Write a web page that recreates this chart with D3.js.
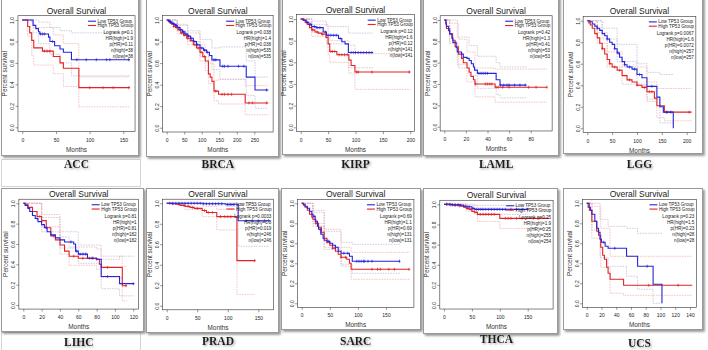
<!DOCTYPE html>
<html>
<head>
<meta charset="utf-8">
<script src="https://cdn.jsdelivr.net/npm/d3@7"></script>
<style>
  body { margin: 0; background: #fff; }
  svg { display: block; }
</style>
</head>
<body>
<svg id="chart" width="708" height="350"></svg>
<script>
// ---- survival curves: [months, survival] step points ----
const accLow  = [[0,1],[16,0.95],[20,0.92],[24,0.89],[26,0.87],[39,0.84],[41,0.80],[48,0.76],[56,0.73],[61,0.70],[73,0.63],[160,0.63]];
const accHigh = [[0,1],[8,0.94],[11,0.88],[14,0.81],[17,0.74],[30,0.71],[46,0.66],[56,0.60],[61,0.55],[84,0.37],[160,0.37]];
const accLowCens  = [27,30,33,45,81,95,110,125,130,158];
const accHighCens = [33,37,41,100,120,135,158];
// bands: [months, upper, lower]
const accLowBand  = [[0,1,1],[16,1,0.88],[24,0.98,0.78],[41,0.93,0.68],[56,0.90,0.60],[73,0.88,0.48],[160,0.88,0.48]];
const accHighBand = [[0,1,1],[8,1,0.85],[14,0.98,0.67],[17,0.93,0.58],[46,0.86,0.50],[61,0.78,0.38],[84,0.47,0.19],[160,0.47,0.19]];
const accStats = ["Logrank p=0.1","HR(high)=1.9","p(HR)=0.11","n(high)=38","n(low)=38"];

const brcaLow  = [[0,1],[5,0.99],[10,0.98],[15,0.97],[20,0.96],[25,0.95],[30,0.93],[38,0.91],[45,0.89],[52,0.87],[60,0.85],[68,0.83],[76,0.80],[85,0.77],[95,0.74],[105,0.72],[114,0.70],[122,0.67],[129,0.63],[152,0.57],[227,0.47],[252,0.35],[290,0.35]];
const brcaHigh = [[0,1],[5,0.99],[10,0.97],[15,0.96],[20,0.94],[25,0.93],[32,0.91],[40,0.88],[48,0.86],[57,0.83],[67,0.81],[76,0.77],[85,0.74],[95,0.70],[103,0.66],[110,0.62],[119,0.50],[124,0.47],[129,0.43],[135,0.34],[148,0.31],[224,0.23],[290,0.23]];
const brcaLowCens  = [8,12,18,22,28,35,40,48,55,62,70,80,88,100,108,116,135,140,160,165,175,205,220,285];
const brcaHighCens = [6,14,20,27,35,42,50,60,70,80,90,98,108,140,158,165,175,185,235,245,285];
const brcaLowBand  = [[0,1,1],[30,0.96,0.90],[60,0.90,0.80],[95,0.82,0.66],[129,0.74,0.54],[152,0.75,0.45],[227,0.62,0.30],[252,0.47,0.18],[290,0.47,0.18]];
const brcaHighBand = [[0,1,1],[30,0.95,0.87],[60,0.88,0.77],[95,0.77,0.62],[110,0.70,0.53],[119,0.60,0.41],[135,0.44,0.25],[148,0.45,0.22],[224,0.39,0.12],[290,0.39,0.12]];
const brcaStats = ["Logrank p=0.038","HR(high)=1.4","p(HR)=0.038","n(high)=535","n(low)=535"];

const kirpLow  = [[0,1],[5,0.99],[10,0.97],[15,0.95],[20,0.93],[28,0.92],[41,0.88],[47,0.85],[69,0.82],[75,0.79],[81,0.77],[87,0.69],[132,0.69]];
const kirpHigh = [[0,1],[4,0.99],[8,0.97],[12,0.95],[16,0.92],[20,0.90],[26,0.88],[32,0.87],[38,0.86],[46,0.83],[50,0.77],[53,0.70],[66,0.67],[88,0.62],[92,0.57],[99,0.51],[200,0.51]];
const kirpLowCens  = [12,18,25,30,35,45,50,55,60,65,72,92,96,100,105,110,115,120,125,130];
const kirpHighCens = [10,22,30,40,55,58,62,70,75,80,85,102,105,130,198];
const kirpLowBand  = [[0,1,1],[20,0.98,0.88],[47,0.93,0.77],[87,0.87,0.55],[132,0.87,0.55]];
const kirpHighBand = [[0,1,1],[20,0.95,0.84],[50,0.86,0.67],[53,0.80,0.60],[88,0.76,0.50],[99,0.68,0.35],[200,0.68,0.35]];
const kirpStats = ["Logrank p=0.12","HR(high)=1.6","p(HR)=0.12","n(high)=141","n(low)=141"];

const lamlLow  = [[0,1],[1.5,0.97],[2,0.94],[4,0.90],[5,0.87],[7,0.83],[8,0.79],[11,0.74],[12,0.70],[16,0.68],[17.6,0.65],[21,0.64],[23,0.62],[25,0.59],[27,0.56],[28,0.53],[30.6,0.50],[48,0.44],[51.6,0.39],[76,0.39]];
const lamlHigh = [[0,1],[1.5,0.96],[2,0.92],[5,0.87],[7.7,0.81],[10,0.75],[13,0.68],[16,0.64],[17.6,0.60],[21,0.55],[23,0.51],[24.7,0.47],[27,0.44],[28.4,0.40],[47,0.37],[95,0.37]];
const lamlLowCens  = [32,34,36,38,40,52,55,58,60,65,70,75];
const lamlHighCens = [29,38,40,42,44,48,50,54,60,78,85,95];
const lamlLowBand  = [[0,1,1],[5,1,0.78],[12,0.84,0.58],[23,0.76,0.48],[30.6,0.66,0.36],[48,0.60,0.30],[51.6,0.56,0.27],[76,0.56,0.27]];
const lamlHighBand = [[0,1,1],[5,0.97,0.78],[13,0.82,0.55],[21,0.70,0.42],[28.4,0.55,0.28],[47,0.54,0.23],[95,0.54,0.23]];
const lamlStats = ["Logrank p=0.42","HR(high)=1.3","p(HR)=0.41","n(high)=53","n(low)=53"];

const lggLow  = [[0,1],[5,0.99],[10,0.97],[15,0.95],[20,0.93],[25,0.91],[30,0.88],[35,0.86],[40,0.83],[45,0.80],[50,0.78],[55,0.74],[60,0.70],[65,0.66],[70,0.62],[75,0.59],[80,0.57],[90,0.55],[100,0.50],[110,0.47],[120,0.39],[140,0.29],[146,0.20],[153,0.15],[173,0]];
const lggHigh = [[0,1],[3,0.98],[6,0.96],[10,0.93],[15,0.88],[20,0.84],[25,0.79],[30,0.74],[35,0.69],[40,0.64],[45,0.60],[50,0.57],[60,0.54],[70,0.49],[80,0.45],[90,0.43],[100,0.40],[110,0.38],[120,0.34],[135,0.28],[140,0.21],[155,0.15],[210,0.15]];
const lggLowCens  = [20,40,55,62,75,85,95,105,130,160,168];
const lggHighCens = [30,45,55,65,85,100,115,125,130,160,205];
const lggLowBand  = [[0,1,1],[30,0.93,0.83],[60,0.78,0.62],[100,0.60,0.40],[120,0.52,0.27],[146,0.50,0.05],[173,0.50,0.05]];
const lggHighBand = [[0,1,1],[20,0.89,0.79],[40,0.71,0.57],[70,0.57,0.41],[120,0.43,0.25],[140,0.37,0.10],[155,0.37,0.07],[210,0.37,0.07]];
const lggStats = ["Logrank p=0.0067","HR(high)=1.6","p(HR)=0.0072","n(high)=257","n(low)=257"];

const lihcLow  = [[0,1],[2,0.98],[5,0.95],[7,0.92],[10,0.88],[13,0.85],[16,0.82],[20,0.79],[23,0.76],[26,0.72],[30,0.69],[35,0.66],[40,0.64],[45,0.62],[55,0.60],[57,0.53],[60,0.50],[70,0.46],[80,0.45],[85,0.28],[105,0.21],[121,0.21]];
const lihcHigh = [[0,1],[2,0.99],[5,0.96],[10,0.92],[15,0.87],[20,0.83],[25,0.76],[30,0.68],[35,0.64],[40,0.59],[45,0.53],[50,0.48],[60,0.46],[80,0.45],[83,0.40],[85,0.37],[108,0.19],[113,0.19]];
const lihcLowCens  = [15,25,52,58,62,65,68,75,92,120];
const lihcHighCens = [18,33,55,65,72,76,80,92,112];
const lihcLowBand  = [[0,1,1],[20,0.86,0.72],[40,0.72,0.56],[60,0.59,0.41],[85,0.45,0.16],[105,0.48,0.09],[121,0.48,0.09]];
const lihcHighBand = [[0,1,1],[20,0.89,0.77],[40,0.67,0.50],[50,0.57,0.39],[80,0.55,0.35],[85,0.48,0.27],[108,0.38,0.04],[113,0.38,0.04]];
const lihcStats = ["Logrank p=0.81","HR(high)=1","p(HR)=0.81","n(high)=182","n(low)=182"];

const pradLow  = [[0,1],[60,0.995],[96,0.99],[117,0.83],[168,0.83]];
const pradHigh = [[0,1],[8,0.995],[15,0.99],[22,0.98],[30,0.97],[38,0.96],[45,0.95],[58,0.93],[65,0.91],[82,0.87],[115,0.44],[145,0.44]];
const pradLowCens  = [5,10,15,20,25,30,35,40,45,50,55,60,65,70,75,80,85,90,100,105,110,130,140,150,160,167];
const pradHighCens = [10,20,28,35,42,50,62,68,75,88,95,100,105,144];
const pradLowBand  = [[0,1,1],[96,1,0.97],[117,0.98,0.58],[168,0.98,0.58]];
const pradHighBand = [[0,1,1],[30,1,0.94],[58,0.97,0.87],[82,0.94,0.74],[115,1,0.11],[145,1,0.11]];
const pradStats = ["Logrank p=0.0033","HR(high)=6.8","p(HR)=0.019","n(high)=246","n(low)=246"];

const sarcLow  = [[0,1],[3,0.99],[6,0.97],[10,0.95],[14,0.92],[18,0.89],[20,0.87],[24,0.82],[28,0.77],[30,0.74],[34,0.69],[38,0.65],[40,0.63],[45,0.62],[50,0.60],[55,0.58],[60,0.56],[65,0.52],[70,0.50],[85,0.47],[90,0.42],[175,0.42]];
const sarcHigh = [[0,1],[3,0.98],[6,0.96],[10,0.93],[14,0.89],[18,0.86],[20,0.84],[25,0.80],[30,0.76],[35,0.71],[40,0.65],[45,0.61],[50,0.58],[55,0.55],[60,0.52],[65,0.49],[70,0.46],[80,0.44],[85,0.40],[88,0.34],[192,0.34]];
const sarcLowCens  = [22,33,48,60,75,82,98,102,106,110,112,118,125,174];
const sarcHighCens = [25,35,45,55,70,78,125,135,140,155,165,191];
const sarcLowBand  = [[0,1,1],[20,0.93,0.80],[40,0.72,0.54],[70,0.61,0.39],[90,0.59,0.30],[175,0.59,0.30]];
const sarcHighBand = [[0,1,1],[20,0.91,0.77],[40,0.74,0.56],[70,0.56,0.37],[88,0.51,0.24],[192,0.51,0.24]];
const sarcStats = ["Logrank p=0.69","HR(high)=1.1","p(HR)=0.69","n(high)=131","n(low)=131"];

const thcaLow  = [[0,1],[15,0.995],[30,0.99],[35,0.98],[42,0.975],[50,0.96],[55,0.95],[150,0.95]];
const thcaHigh = [[0,1],[8,0.995],[15,0.99],[25,0.985],[32,0.98],[36,0.97],[40,0.96],[45,0.95],[50,0.93],[55,0.92],[60,0.90],[100,0.86],[188,0.86]];
const thcaLowCens  = [5,10,15,20,25,30,38,45,52,58,62,66,70,75,80,85,90,95,100,105,110,120,130,140,150];
const thcaHighCens = [5,12,20,28,35,42,48,65,70,75,80,85,90,110,115,120,130,140,160,170];
const thcaLowBand  = [[0,1,1],[40,1,0.95],[55,0.99,0.90],[150,0.99,0.90]];
const thcaHighBand = [[0,1,1],[40,0.99,0.93],[60,0.96,0.83],[100,0.95,0.76],[188,0.95,0.76]];
const thcaStats = ["Logrank p=0.25","HR(high)=1.9","p(HR)=0.25","n(high)=255","n(low)=254"];

const ucsLow  = [[0,1],[2,0.96],[5,0.93],[7,0.89],[11,0.82],[13.6,0.75],[16,0.71],[18,0.64],[20,0.61],[25,0.57],[29,0.55],[54,0.47],[69,0.37],[90,0.19],[102,0]];
const ucsHigh = [[0,1],[3.6,0.93],[7,0.82],[13.6,0.72],[16,0.68],[19,0.56],[21.7,0.48],[24,0.44],[27,0.36],[29,0.30],[31.7,0.24],[50,0.18],[143,0.18]];
const ucsLowCens  = [23,38,82];
const ucsHighCens = [84,124];
const ucsLowBand  = [[0,1,1],[7,1,0.73],[18,0.84,0.46],[29,0.77,0.37],[54,0.75,0.27],[69,0.70,0.14],[90,0.70,0],[102,0.70,0]];
const ucsHighBand = [[0,1,1],[7,0.97,0.65],[19,0.75,0.36],[31.7,0.47,0.10],[50,0.47,0.08],[143,0.47,0.08]];
const ucsStats = ["Logrank p=0.23","HR(high)=1.5","p(HR)=0.23","n(high)=28","n(low)=28"];

// ---- layout of the ten screenshots ----
const panels = [
  {name:"ACC",  low:accLow,  high:accHigh,  lc:accLowCens,  hc:accHighCens,  lb:accLowBand,  hb:accHighBand,  stats:accStats,
   frame:[1,-3,137,158],  px0:22.3,  px1:123.3, tick1:150, step:50, py0:127.3, py1:20,    tEnd:161, labelY:164},
  {name:"BRCA", low:brcaLow, high:brcaHigh, lc:brcaLowCens, hc:brcaHighCens, lb:brcaLowBand, hb:brcaHighBand, stats:brcaStats,
   frame:[146,-3,132,159],px0:166.7, px1:254.3, tick1:250, step:50, py0:127.7, py1:20,    tEnd:292, labelY:164},
  {name:"KIRP", low:kirpLow, high:kirpHigh, lc:kirpLowCens, hc:kirpHighCens, lb:kirpLowBand, hb:kirpHighBand, stats:kirpStats,
   frame:[282,-3,138,157],px0:300.7, px1:410.3, tick1:200, step:50, py0:127.3, py1:19,    tEnd:200, labelY:164},
  {name:"LAML", low:lamlLow, high:lamlHigh, lc:lamlLowCens, hc:lamlHighCens, lb:lamlLowBand, hb:lamlHighBand, stats:lamlStats,
   frame:[423,-3,135,158],px0:444.3, px1:530.7, tick1:80,  step:20, py0:126.7, py1:20,    tEnd:96,  labelY:164},
  {name:"LGG",  low:lggLow,  high:lggHigh,  lc:lggLowCens,  hc:lggHighCens,  lb:lggLowBand,  hb:lggHighBand,  stats:lggStats,
   frame:[563,-3,139,156],px0:587.3, px1:686.7, tick1:200, step:50, py0:128.3, py1:20.7,  tEnd:210, labelY:164},
  {name:"LIHC", low:lihcLow, high:lihcHigh, lc:lihcLowCens, hc:lihcHighCens, lb:lihcLowBand, hb:lihcHighBand, stats:lihcStats,
   frame:[1,188,142,143], px0:23.3,  px1:133.3, tick1:120, step:20, py0:305,   py1:203.3, tEnd:121, labelY:342},
  {name:"PRAD", low:pradLow, high:pradHigh, lc:pradLowCens, hc:pradHighCens, lb:pradLowBand, hb:pradHighBand, stats:pradStats,
   frame:[146,188,132,144],px0:166.7,px1:258.3, tick1:150, step:50, py0:305.7, py1:203.3, tEnd:168, labelY:341},
  {name:"SARC", low:sarcLow, high:sarcHigh, lc:sarcLowCens, hc:sarcHighCens, lb:sarcLowBand, hb:sarcHighBand, stats:sarcStats,
   frame:[281,188,139,141],px0:301.7, px1:386,   tick1:150, step:50, py0:303.3, py1:203.3, tEnd:192, labelY:341},
  {name:"THCA", low:thcaLow, high:thcaHigh, lc:thcaLowCens, hc:thcaHighCens, lb:thcaLowBand, hb:thcaHighBand, stats:thcaStats,
   frame:[423,188,134,145],px0:444,   px1:527.7, tick1:150, step:50, py0:305,   py1:204.3, tEnd:188, labelY:338.5},
  {name:"UCS",  low:ucsLow,  high:ucsHigh,  lc:ucsLowCens,  hc:ucsHighCens,  lb:ucsLowBand,  hb:ucsHighBand,  stats:ucsStats,
   frame:[563,188,139,141],px0:586.7, px1:690,   tick1:140, step:20, py0:303.3, py1:203.3, tEnd:143, labelY:343}
];

const lowColor = "#2525d9", highColor = "#e32222";
const lowBandColor = "#b9b9d8", highBandColor = "#f1aaaa";
const sans = "'Liberation Sans', Arial, sans-serif";

const svg = d3.select("#chart");
const defs = svg.append("defs");
const shadow = defs.append("filter").attr("id", "shadow").attr("x", "-5%").attr("y", "-5%").attr("width", "115%").attr("height", "115%");
shadow.append("feDropShadow").attr("dx", 1.8).attr("dy", 1.8).attr("stdDeviation", 1.2).attr("flood-color", "#666").attr("flood-opacity", 0.7);
const tshadow = defs.append("filter").attr("id", "tshadow").attr("x", "-20%").attr("y", "-40%").attr("width", "150%").attr("height", "190%");
tshadow.append("feDropShadow").attr("dx", 1.2).attr("dy", 1.2).attr("stdDeviation", 1).attr("flood-color", "#888").attr("flood-opacity", 0.8);

// faint boxes around the first column labels
[[1,159,139,27],[1,332,139,30]].forEach(r => {
  svg.append("rect").attr("x", r[0] + 0.5).attr("y", r[1] + 0.5).attr("width", r[2]).attr("height", r[3])
    .attr("fill", "none").attr("stroke", "#d4d4d4").attr("stroke-width", 1);
});

function survAt(curve, t) {
  let s = curve[0][1];
  curve.forEach(p => { if (p[0] <= t) s = p[1]; });
  return s;
}

panels.forEach(p => {
  const g = svg.append("g");
  const [fx, fy, fw, fh] = p.frame;

  // screenshot frame
  g.append("rect").attr("x", fx + 0.5).attr("y", fy + 0.5).attr("width", fw).attr("height", fh)
    .attr("fill", "#fff").attr("stroke", "#9a9a9a").attr("stroke-width", 1).attr("filter", "url(#shadow)");

  const x = d3.scaleLinear().domain([0, p.tick1]).range([p.px0, p.px1]);
  const y = d3.scaleLinear().domain([0, 1]).range([p.py0, p.py1]);
  const boxL = x(-0.04 * p.tEnd), boxR = x(1.04 * p.tEnd);
  const boxT = y(1.04), boxB = y(-0.04);
  const cx = (boxL + boxR) / 2;

  const line = d3.line().x(d => x(d[0])).y(d => y(d[1])).curve(d3.curveStepAfter);

  // confidence bands
  [[p.lb, lowBandColor], [p.hb, highBandColor]].forEach(([band, col]) => {
    [1, 2].forEach(k => {
      g.append("path").attr("d", line(band.map(b => [b[0], b[k]])))
        .attr("fill", "none").attr("stroke", col).attr("stroke-width", 0.7).attr("stroke-dasharray", "1.6,1");
    });
  });

  // curves
  [[p.high, p.hc, highColor], [p.low, p.lc, lowColor]].forEach(([curve, cens, col]) => {
    g.append("path").attr("d", line(curve)).attr("fill", "none").attr("stroke", col).attr("stroke-width", 1.1);
    g.selectAll(null).data(cens).enter().append("path")
      .attr("d", t => {
        const px = x(t), py = y(survAt(curve, t));
        return `M${px},${py - 1.6}V${py + 1.6}M${px - 1.2},${py}H${px + 1.2}`;
      })
      .attr("stroke", col).attr("stroke-width", 0.6);
  });

  // plot box
  g.append("rect").attr("x", boxL).attr("y", boxT).attr("width", boxR - boxL).attr("height", boxB - boxT)
    .attr("fill", "none").attr("stroke", "#333").attr("stroke-width", 0.6);

  // axes
  const ticks = d3.range(0, p.tick1 + 0.1, p.step);
  const gx = g.append("g").attr("transform", `translate(0,${boxB})`)
    .call(d3.axisBottom(x).tickValues(ticks).tickSize(2.5).tickPadding(4).tickSizeOuter(0));
  gx.select(".domain").remove();
  gx.selectAll("line").attr("stroke", "#333").attr("stroke-width", 0.5);
  gx.selectAll("text").attr("font-size", 5).attr("font-family", sans).attr("fill", "#222");

  const gy = g.append("g").attr("transform", `translate(${boxL},0)`)
    .call(d3.axisLeft(y).tickValues([0, 0.2, 0.4, 0.6, 0.8, 1]).tickFormat(d3.format(".1f")).tickSize(2.5).tickSizeOuter(0));
  gy.select(".domain").remove();
  gy.selectAll("line").attr("stroke", "#333").attr("stroke-width", 0.5);
  gy.selectAll("text").attr("font-size", 5).attr("font-family", sans).attr("fill", "#222")
    .attr("x", null).attr("dy", null).attr("text-anchor", "middle").attr("dominant-baseline", "central")
    .attr("transform", "translate(-5.5,0) rotate(-90)");

  // titles
  g.append("text").attr("x", cx).attr("y", boxT - 5).attr("text-anchor", "middle").attr("dominant-baseline", "central")
    .attr("font-family", sans).attr("font-size", 8.5).attr("fill", "#222").text("Overall Survival");
  g.append("text").attr("x", cx).attr("y", boxB + 17.5).attr("text-anchor", "middle").attr("dominant-baseline", "central")
    .attr("font-family", sans).attr("font-size", 6.4).attr("fill", "#333").text("Months");
  g.append("text").attr("transform", `translate(${boxL - 13},${(boxT + boxB) / 2}) rotate(-90)`)
    .attr("text-anchor", "middle").attr("dominant-baseline", "central")
    .attr("font-family", sans).attr("font-size", 6.4).attr("fill", "#333").text("Percent survival");

  // legend
  [["Low TP53 Group", lowColor, 5.5], ["High TP53 Group", highColor, 9.8]].forEach(([lab, col, dy]) => {
    g.append("line").attr("x1", boxR - 47).attr("x2", boxR - 39).attr("y1", boxT + dy).attr("y2", boxT + dy)
      .attr("stroke", col).attr("stroke-width", 1.1);
    g.append("text").attr("x", boxR - 37.5).attr("y", boxT + dy).attr("dominant-baseline", "central")
      .attr("font-family", sans).attr("font-size", 4.6).attr("fill", "#222").text(lab);
  });
  p.stats.forEach((s, i) => {
    g.append("text").attr("x", boxR - 2).attr("y", boxT + 16.8 + i * 6.1).attr("text-anchor", "end")
      .attr("dominant-baseline", "central").attr("font-family", sans).attr("font-size", 4.6).attr("fill", "#222").text(s);
  });

  // cancer label
  svg.append("text").attr("x", cx).attr("y", p.labelY).attr("text-anchor", "middle").attr("dominant-baseline", "central")
    .attr("font-family", "'Liberation Serif', 'Times New Roman', serif").attr("font-weight", "bold").attr("font-size", 11.5)
    .attr("fill", "#1a1a1a").attr("filter", "url(#tshadow)").text(p.name);
});
</script>
</body>
</html>
